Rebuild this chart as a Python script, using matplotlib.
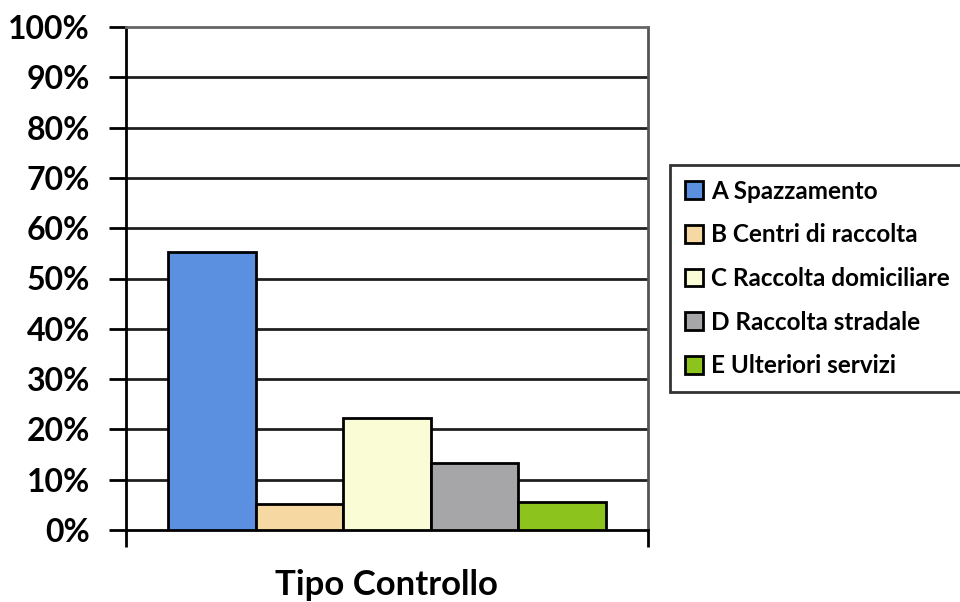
import matplotlib.pyplot as plt
import numpy as np

categorie = ['A Spazzamento', 'B Centri di raccolta', 'C Raccolta domiciliare',
             'D Raccolta stradale', 'E Ulteriori servizi']
valori = [55.3, 5.2, 22.3, 13.3, 5.6]
colori = ['#5b8fdf', '#f6d8a2', '#fafcd6', '#a6a6a8', '#8cc31c']
yticks = np.arange(0, 101, 10)

plt.rcParams['font.family'] = ['Lato', 'DejaVu Sans']
plt.rcParams['font.weight'] = 'bold'

fig = plt.figure(figsize=(9.6, 6.02), dpi=100)
ax = fig.add_axes([126 / 960, 1 - 530 / 602, 522 / 960, 503 / 602])

w = 0.1678
x0 = -2 * w
for i, (c, v, col) in enumerate(zip(categorie, valori, colori)):
    ax.bar(x0 + i * w, v, width=w, color=col, edgecolor='black', linewidth=2,
           label=c, zorder=3)

ax.set_xlim(-0.5, 0.5)
ax.set_ylim(0, 100)
ax.set_yticks(yticks)
ax.set_yticklabels([f'{t}%' for t in yticks], fontsize=23, fontweight='bold')
ax.set_xticks([-0.5, 0.5])
ax.set_xticklabels(['', ''])
ax.tick_params(axis='y', length=12, width=2, pad=14)
ax.tick_params(axis='x', length=12, width=2, direction='out')
# linee di griglia (la linea al 100% è il bordo superiore, grigio)
for t in yticks[1:-1]:
    ax.axhline(t, color='#202020', linewidth=2, zorder=0)

ax.spines['top'].set_linewidth(2)
ax.spines['top'].set_color('#666666')
ax.spines['left'].set_linewidth(2)
ax.spines['bottom'].set_linewidth(2)
ax.spines['right'].set_linewidth(2)
ax.spines['right'].set_color('#555555')

fig.text(386 / 960, 1 - 585 / 602, 'Tipo Controllo', fontsize=25,
         fontweight='bold', ha='center', va='center')

leg = fig.legend(loc='upper left', bbox_to_anchor=(670 / 960, 1 - 165 / 602),
                 frameon=True, fancybox=False, edgecolor='black',
                 handlelength=0.75, handleheight=0.75, handletextpad=0.35,
                 labelspacing=0.85, borderpad=0.6, borderaxespad=0,
                 prop={'weight': 'bold', 'size': 17.5})
leg.get_frame().set_linewidth(2)

fig.savefig('out.png', dpi=100)
